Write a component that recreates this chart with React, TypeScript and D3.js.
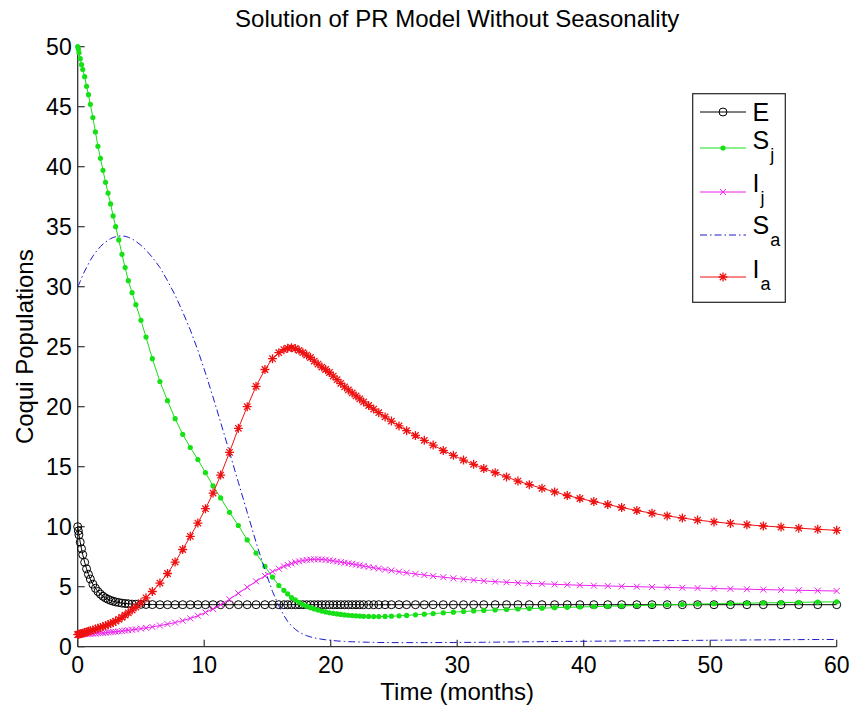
import React from 'react';
import * as d3 from 'd3';

const TIME = [0, 0.05, 0.1, 0.2, 0.3, 0.4, 0.55, 0.7, 0.85, 1.0,
  1.2, 1.4, 1.6, 1.8, 2.0, 2.2, 2.4, 2.6, 2.8, 3.0,
  3.25, 3.5, 3.75, 4.0, 4.3, 4.6, 5.0, 5.4, 5.9, 6.5,
  7.1, 7.7, 8.3, 8.9, 9.5, 10.1, 10.7, 11.3, 12.0, 12.7,
  13.4, 14.1, 14.8, 15.4, 15.9, 16.3, 16.6, 16.9, 17.2, 17.5,
  17.8, 18.1, 18.4, 18.7, 19.0, 19.3, 19.6, 19.9, 20.2, 20.5,
  20.8, 21.1, 21.4, 21.7, 22.0, 22.3, 22.6, 23.0, 23.4, 23.8,
  24.3, 24.8, 25.4, 26.0, 26.7, 27.4, 28.1, 28.9, 29.7, 30.5,
  31.3, 32.1, 33.0, 33.9, 34.8, 35.7, 36.7, 37.7, 38.7, 39.7,
  40.8, 41.9, 43.0, 44.2, 45.4, 46.6, 47.8, 49.0, 50.3, 51.6,
  52.9, 54.2, 55.6, 57.0, 58.5, 60.0];

const E_VALUES = [10.0, 9.65, 9.32, 8.71, 8.16, 7.67, 7.03, 6.49, 6.03, 5.64,
  5.21, 4.87, 4.60, 4.38, 4.20, 4.06, 3.95, 3.86, 3.79, 3.73,
  3.68, 3.63, 3.60, 3.58, 3.55, 3.54, 3.53, 3.52, 3.51, 3.5,
  3.5, 3.5, 3.5, 3.5, 3.5, 3.5, 3.5, 3.5, 3.5, 3.5,
  3.5, 3.5, 3.5, 3.5, 3.5, 3.5, 3.5, 3.5, 3.5, 3.5,
  3.5, 3.5, 3.5, 3.5, 3.5, 3.5, 3.5, 3.5, 3.5, 3.5,
  3.5, 3.5, 3.5, 3.5, 3.5, 3.5, 3.5, 3.5, 3.5, 3.5,
  3.5, 3.5, 3.5, 3.5, 3.5, 3.5, 3.5, 3.5, 3.5, 3.5,
  3.5, 3.5, 3.5, 3.5, 3.5, 3.5, 3.5, 3.5, 3.5, 3.5,
  3.5, 3.5, 3.5, 3.5, 3.5, 3.5, 3.5, 3.5, 3.5, 3.5,
  3.5, 3.5, 3.5, 3.5, 3.5, 3.5];

const SJ_VALUES = [50.0, 49.8, 49.5, 49.0, 48.5, 48.1, 47.5, 46.7, 46.0, 45.2,
  44.1, 42.9, 41.7, 40.7, 39.7, 38.7, 37.8, 36.9, 35.9, 35.0,
  33.9, 32.7, 31.6, 30.5, 29.5, 28.5, 27.2, 25.8, 24.0, 22.1,
  20.5, 19.0, 17.7, 16.6, 15.6, 14.5, 13.4, 12.4, 11.2, 10.1,
  8.9, 7.8, 6.7, 5.8, 5.1, 4.7, 4.4, 4.1, 3.9, 3.7,
  3.5, 3.38, 3.25, 3.15, 3.05, 2.97, 2.9, 2.83, 2.78, 2.73,
  2.69, 2.65, 2.62, 2.59, 2.57, 2.55, 2.53, 2.52, 2.51, 2.51,
  2.52, 2.54, 2.57, 2.61, 2.66, 2.71, 2.76, 2.82, 2.88, 2.93,
  2.98, 3.02, 3.06, 3.1, 3.14, 3.18, 3.21, 3.25, 3.28, 3.31,
  3.34, 3.37, 3.4, 3.43, 3.46, 3.49, 3.52, 3.55, 3.58, 3.6,
  3.63, 3.65, 3.67, 3.7, 3.72, 3.74];

const IJ_VALUES = [1.0, 1.0, 1.01, 1.02, 1.03, 1.04, 1.05, 1.06, 1.07, 1.08,
  1.09, 1.1, 1.12, 1.13, 1.15, 1.17, 1.19, 1.21, 1.23, 1.25,
  1.28, 1.31, 1.34, 1.37, 1.41, 1.45, 1.51, 1.57, 1.65, 1.76,
  1.88, 2.01, 2.17, 2.36, 2.58, 2.85, 3.15, 3.5, 3.95, 4.45,
  4.95, 5.45, 5.9, 6.25, 6.5, 6.7, 6.82, 6.93, 7.03, 7.11,
  7.18, 7.23, 7.26, 7.28, 7.28, 7.27, 7.24, 7.2, 7.15, 7.1,
  7.05, 7.0, 6.95, 6.9, 6.84, 6.78, 6.72, 6.65, 6.58, 6.51,
  6.43, 6.35, 6.25, 6.16, 6.06, 5.97, 5.88, 5.79, 5.7, 5.62,
  5.55, 5.48, 5.42, 5.37, 5.32, 5.28, 5.24, 5.2, 5.16, 5.12,
  5.09, 5.06, 5.03, 5.0, 4.97, 4.94, 4.91, 4.88, 4.85, 4.82,
  4.79, 4.76, 4.73, 4.7, 4.67, 4.64];

const SA_VALUES = [30.0, 30.1, 30.2, 30.45, 30.7, 30.95, 31.3, 31.6, 31.9, 32.2,
  32.55, 32.85, 33.1, 33.35, 33.55, 33.72, 33.87, 34.0, 34.1, 34.17,
  34.22, 34.23, 34.2, 34.12, 33.98, 33.78, 33.45, 33.05, 32.45, 31.6,
  30.5, 29.3, 27.9, 26.4, 24.7, 22.8, 20.8, 18.7, 16.2, 13.7,
  11.2, 8.7, 6.4, 4.6, 3.4, 2.6, 2.1, 1.75, 1.45, 1.22,
  1.05, 0.92, 0.82, 0.74, 0.67, 0.62, 0.58, 0.54, 0.51, 0.48,
  0.46, 0.44, 0.42, 0.41, 0.4, 0.39, 0.38, 0.37, 0.36, 0.35,
  0.35, 0.34, 0.34, 0.34, 0.34, 0.34, 0.34, 0.35, 0.35, 0.36,
  0.36, 0.37, 0.38, 0.39, 0.4, 0.41, 0.42, 0.43, 0.44, 0.45,
  0.46, 0.47, 0.48, 0.49, 0.5, 0.51, 0.52, 0.53, 0.54, 0.55,
  0.56, 0.57, 0.58, 0.59, 0.6, 0.6];

const IA_VALUES = [1.0, 1.02, 1.04, 1.07, 1.1, 1.13, 1.18, 1.23, 1.28, 1.33,
  1.4, 1.47, 1.54, 1.61, 1.68, 1.76, 1.84, 1.93, 2.02, 2.13,
  2.28, 2.45, 2.63, 2.82, 3.06, 3.31, 3.67, 4.07, 4.6, 5.3,
  6.1, 7.05, 8.1, 9.2, 10.3, 11.5, 12.8, 14.3, 16.2, 18.2,
  20.0, 21.7, 23.1, 24.0, 24.5, 24.75, 24.87, 24.92, 24.85, 24.7,
  24.5, 24.3, 24.1, 23.8, 23.55, 23.3, 23.1, 22.85, 22.55, 22.25,
  21.95, 21.65, 21.4, 21.15, 20.9, 20.65, 20.4, 20.1, 19.8, 19.5,
  19.15, 18.8, 18.4, 18.0, 17.6, 17.2, 16.8, 16.35, 15.95, 15.55,
  15.2, 14.85, 14.5, 14.15, 13.8, 13.5, 13.2, 12.9, 12.6, 12.35,
  12.1, 11.85, 11.6, 11.35, 11.12, 10.9, 10.72, 10.55, 10.4, 10.27,
  10.16, 10.06, 9.97, 9.88, 9.78, 9.7];

const X_TICKS = [0, 10, 20, 30, 40, 50, 60];
const Y_TICKS = [0, 5, 10, 15, 20, 25, 30, 35, 40, 45, 50];
const TITLE = 'Solution of PR Model Without Seasonality';
const X_LABEL = 'Time (months)';
const Y_LABEL = 'Coqui Populations';
const LEGEND_MAIN = ['E', 'S', 'I', 'S', 'I'];
const LEGEND_SUB = ['', 'j', 'j', 'a', 'a'];

const FONT = "'Liberation Sans', Arial, Helvetica, sans-serif";

type MarkerKind = 'circle' | 'dot' | 'x' | 'none' | 'star';
interface Series { values: number[]; color: string; marker: MarkerKind; dash?: string; }

const SERIES: Series[] = [
  { values: E_VALUES, color: '#000000', marker: 'circle' },
  { values: SJ_VALUES, color: '#16e016', marker: 'dot' },
  { values: IJ_VALUES, color: '#ee22ee', marker: 'x' },
  { values: SA_VALUES, color: '#1a1acc', marker: 'none', dash: '7,3,1.5,3' },
  { values: IA_VALUES, color: '#ee1111', marker: 'star' },
];

function Marker({ kind, cx, cy, color }: { kind: MarkerKind; cx: number; cy: number; color: string }) {
  if (kind === 'circle') return <circle cx={cx} cy={cy} r={4} fill="none" stroke={color} strokeWidth={1} />;
  if (kind === 'dot') return <circle cx={cx} cy={cy} r={2.6} fill={color} />;
  if (kind === 'x') return <path transform={`translate(${cx},${cy})`} d="M-3,-3L3,3M-3,3L3,-3" stroke={color} strokeWidth={1} fill="none" />;
  if (kind === 'star') return <path transform={`translate(${cx},${cy})`} d="M-4.5,0H4.5M0,-4.5V4.5M-3.2,-3.2L3.2,3.2M-3.2,3.2L3.2,-3.2" stroke={color} strokeWidth={1.3} fill="none" />;
  return null;
}

export default function App() {
  const W = 854, H = 715;
  const left = 77.7, right = 836.7, top = 46.7, bottom = 646.7;
  const x = d3.scaleLinear().domain([0, 60]).range([left, right]);
  const y = d3.scaleLinear().domain([0, 50]).range([bottom, top]);
  const tick = 7;

  const legendBox = { x: 692.7, y: 93.7, w: 92.6, h: 208.6 };
  const legendRows = [112, 148, 192, 235, 277];
  const legendBase = [121, 148.5, 192, 233.5, 278];

  return (
    <svg width={W} height={H} style={{ position: 'absolute', left: 0, top: 0, background: '#fff' }} fontFamily={FONT}>
      <rect x={0} y={0} width={W} height={H} fill="#fff" />
      <text x={(left + right) / 2} y={27} textAnchor="middle" fontSize={24} fill="#000">{TITLE}</text>

      {/* axes */}
      <line x1={left} y1={top} x2={left} y2={bottom} stroke="#333" strokeWidth={1.3} />
      <line x1={left} y1={bottom} x2={right} y2={bottom} stroke="#333" strokeWidth={1.3} />
      {Y_TICKS.map((t) => (
        <g key={'y' + t}>
          <line x1={left} x2={left + tick} y1={y(t)} y2={y(t)} stroke="#333" strokeWidth={1.2} />
          <text x={left - 6} y={y(t) + 8} textAnchor="end" fontSize={23} fill="#000">{t}</text>
        </g>
      ))}
      {X_TICKS.map((t) => (
        <g key={'x' + t}>
          <line x1={x(t)} x2={x(t)} y1={bottom} y2={bottom - tick} stroke="#333" strokeWidth={1.2} />
          <text x={x(t)} y={673} textAnchor="middle" fontSize={23} fill="#000">{t}</text>
        </g>
      ))}
      <text x={(left + right) / 2} y={700} textAnchor="middle" fontSize={24} fill="#000">{X_LABEL}</text>
      <text transform={`translate(33,${(top + bottom) / 2}) rotate(-90)`} textAnchor="middle" fontSize={24} fill="#000">{Y_LABEL}</text>

      {/* series */}
      {SERIES.map((s, i) => {
        const pts = TIME.map((t, k) => [x(t), y(s.values[k])] as [number, number]);
        const path = d3.line()(pts) || '';
        return (
          <g key={'s' + i}>
            <path d={path} fill="none" stroke={s.color} strokeWidth={1} strokeDasharray={s.dash} />
            {s.marker !== 'none' && pts.map((p, k) => <Marker key={k} kind={s.marker} cx={p[0]} cy={p[1]} color={s.color} />)}
          </g>
        );
      })}

      {/* legend */}
      <rect x={legendBox.x} y={legendBox.y} width={legendBox.w} height={legendBox.h} fill="#fff" stroke="#222" strokeWidth={1.2} />
      {SERIES.map((s, i) => (
        <g key={'l' + i}>
          <line x1={700} x2={746} y1={legendRows[i]} y2={legendRows[i]} stroke={s.color} strokeWidth={1} strokeDasharray={s.dash} />
          <Marker kind={s.marker} cx={723} cy={legendRows[i]} color={s.color} />
          <text x={752.5} y={legendBase[i]} fontSize={25} fill="#000">
            {LEGEND_MAIN[i]}
            {LEGEND_SUB[i] && <tspan dx={1} dy={12} fontSize={18}>{LEGEND_SUB[i]}</tspan>}
          </text>
        </g>
      ))}
    </svg>
  );
}
